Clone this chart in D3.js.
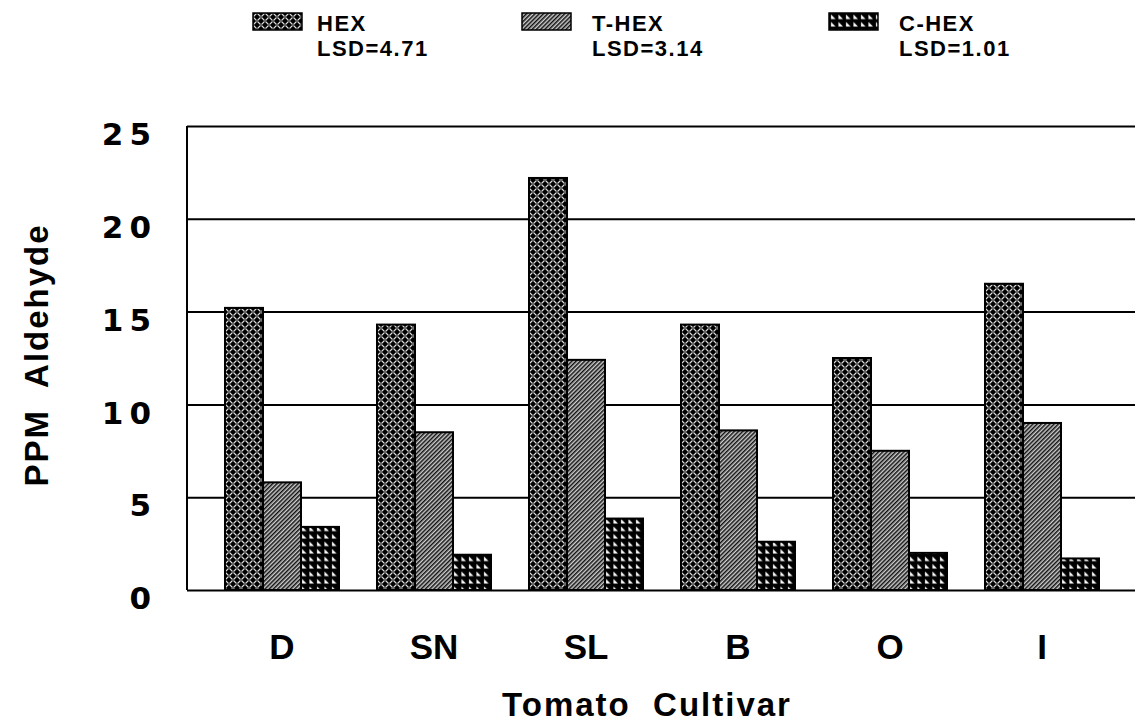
<!DOCTYPE html>
<html>
<head>
<meta charset="utf-8">
<script src="https://cdn.jsdelivr.net/npm/d3@7"></script>
<style>
  body { margin: 0; background: #fff; }
  text { font-weight: bold; fill: #000; }
</style>
</head>
<body>
<svg id="chart"></svg>
<script>
// Data
const cultivars = ["D", "SN", "SL", "B", "O", "I"];
const series = ["HEX", "T-HEX", "C-HEX"];
const lsd = ["LSD=4.71", "LSD=3.14", "LSD=1.01"];
const hexValues = [15.2, 14.3, 22.2, 14.3, 12.5, 16.5];
const thexValues = [5.8, 8.5, 12.4, 8.6, 7.5, 9.0];
const chexValues = [3.4, 1.9, 3.85, 2.6, 2.0, 1.7];
const yTicks = [0, 5, 10, 15, 20, 25];

const data = cultivars.map((c, i) => ({
  cultivar: c,
  "HEX": hexValues[i],
  "T-HEX": thexValues[i],
  "C-HEX": chexValues[i]
}));

const W = 1135, H = 723;
const margin = {top: 126, right: 0, bottom: 133, left: 187};
const sans = "'Liberation Sans', Arial, sans-serif";

const svg = d3.select("#chart")
  .attr("width", W)
  .attr("height", H);

// Fill patterns (black and white print look)
const defs = svg.append("defs");

const pHex = defs.append("pattern")
  .attr("id", "p-hex")
  .attr("patternUnits", "userSpaceOnUse")
  .attr("width", 8).attr("height", 8);
pHex.append("rect").attr("width", 8).attr("height", 8).attr("fill", "#000");
pHex.append("path")
  .attr("d", "M0.5,3.5 L3.5,0.5 M4.5,7.5 L7.5,4.5 M4.5,0.5 L7.5,3.5 M0.5,4.5 L3.5,7.5")
  .attr("stroke", "#ddd").attr("stroke-width", 1.1).attr("fill", "none");

const pThex = defs.append("pattern")
  .attr("id", "p-thex")
  .attr("patternUnits", "userSpaceOnUse")
  .attr("width", 3).attr("height", 3)
  .attr("patternTransform", "rotate(45)");
pThex.append("rect").attr("width", 3).attr("height", 3).attr("fill", "#ccc");
pThex.append("line")
  .attr("x1", 0).attr("y1", 0).attr("x2", 0).attr("y2", 3)
  .attr("stroke", "#111").attr("stroke-width", 3);

const pChex = defs.append("pattern")
  .attr("id", "p-chex")
  .attr("patternUnits", "userSpaceOnUse")
  .attr("width", 7.5).attr("height", 7.5);
pChex.append("rect").attr("width", 7.5).attr("height", 7.5).attr("fill", "#000");
pChex.append("path")
  .attr("d", "M2,1.5 L2,6 L6.5,6 Z")
  .attr("fill", "#fff");

const fills = d3.scaleOrdinal()
  .domain(series)
  .range(["url(#p-hex)", "url(#p-thex)", "url(#p-chex)"]);

// Scales
const x0 = d3.scaleBand()
  .domain(cultivars)
  .range([margin.left, W + 2])
  .paddingInner(0.25)
  .paddingOuter(0.25);

const x1 = d3.scaleBand()
  .domain(series)
  .range([0, x0.bandwidth()]);

const y = d3.scaleLinear()
  .domain([0, 25])
  .range([H - margin.bottom, margin.top]);

// Grid lines + y tick labels
const yAxis = d3.axisLeft(y)
  .tickValues(yTicks)
  .tickSize(-(W - margin.left))
  .tickPadding(30);

const gy = svg.append("g")
  .attr("transform", `translate(${margin.left},0)`)
  .call(yAxis);
gy.select(".domain").remove();
gy.selectAll(".tick line")
  .attr("stroke", "#000")
  .attr("stroke-width", 2);
gy.selectAll(".tick text")
  .style("font-family", "'DejaVu Sans', sans-serif")
  .style("font-size", "31px")
  .style("font-weight", "bold")
  .attr("letter-spacing", 6)
  .attr("dy", "0.6em");

// Left frame line
svg.append("line")
  .attr("x1", margin.left).attr("x2", margin.left)
  .attr("y1", y(25)).attr("y2", y(0))
  .attr("stroke", "#000").attr("stroke-width", 2);

// Bars
svg.append("g")
  .selectAll("g")
  .data(data)
  .join("g")
    .attr("transform", (d) => `translate(${x0(d.cultivar)},0)`)
  .selectAll("rect")
  .data((d) => series.map((key) => ({key, value: d[key]})))
  .join("rect")
    .attr("x", (d) => x1(d.key))
    .attr("y", (d) => y(d.value))
    .attr("width", x1.bandwidth())
    .attr("height", (d) => y(0) - y(d.value))
    .attr("fill", (d) => fills(d.key))
    .attr("stroke", "#000")
    .attr("stroke-width", 2);

// X axis labels
const xAxis = d3.axisBottom(x0)
  .tickSize(0)
  .tickPadding(44);
const gx = svg.append("g")
  .attr("transform", `translate(0,${y(0)})`)
  .call(xAxis);
gx.select(".domain").remove();
gx.selectAll(".tick text")
  .style("font-family", sans)
  .style("font-size", "35px")
  .style("font-weight", "bold");

// Axis titles
svg.append("text")
  .attr("x", 647)
  .attr("y", 716)
  .attr("text-anchor", "middle")
  .style("font-family", sans)
  .style("font-size", "33px")
  .attr("letter-spacing", 2)
  .style("white-space", "pre")
  .text("Tomato  Cultivar");

svg.append("text")
  .attr("transform", "translate(48,355) rotate(-90)")
  .attr("text-anchor", "middle")
  .style("font-family", sans)
  .style("font-size", "33px")
  .attr("letter-spacing", 2)
  .style("white-space", "pre")
  .text("PPM  Aldehyde");

// Legend
const legendX = [253, 522, 829];
const legend = svg.append("g")
  .selectAll("g")
  .data(series)
  .join("g")
    .attr("transform", (d, i) => `translate(${legendX[i]},13)`);

legend.append("rect")
  .attr("width", 49)
  .attr("height", 17)
  .attr("fill", (d) => fills(d))
  .attr("stroke", "#000")
  .attr("stroke-width", 1.5);

legend.append("text")
  .attr("x", (d, i) => i === 0 ? 64 : 70)
  .attr("y", 18)
  .style("font-family", sans)
  .style("font-size", "22px")
  .attr("letter-spacing", 1.5)
  .text((d) => d);

legend.append("text")
  .attr("x", (d, i) => i === 0 ? 64 : 70)
  .attr("y", 43)
  .style("font-family", sans)
  .style("font-size", "22px")
  .attr("letter-spacing", 1.5)
  .text((d, i) => lsd[i]);
</script>
</body>
</html>
